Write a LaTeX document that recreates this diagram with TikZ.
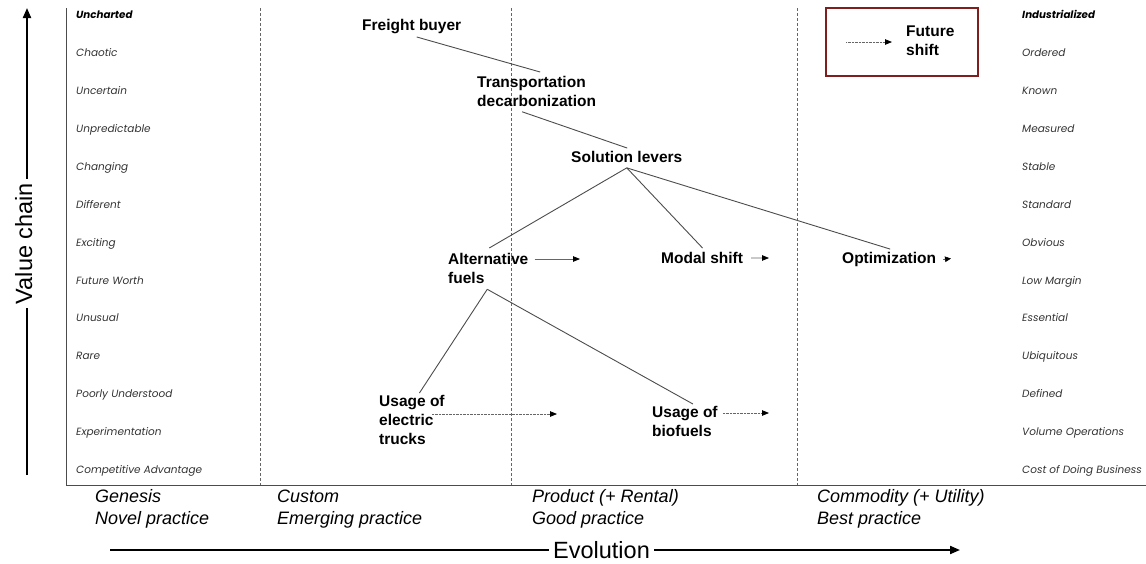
\documentclass[tikz,border=0pt]{standalone}
\usepackage{fontspec}
\setmainfont{Liberation Sans}
\newfontfamily\popfont{Poppins}
\usetikzlibrary{arrows.meta}
\definecolor{boxred}{RGB}{128,30,30}
\begin{document}
\begin{tikzpicture}[x=1pt,y=-1pt,
  rowlbl/.style={font=\popfont\itshape\fontsize{10.5}{12}\selectfont, text=black!80, anchor=base west, inner sep=0},
  rowhead/.style={font=\popfont\bfseries\itshape\fontsize{10.3}{12}\selectfont, text=black, anchor=base west, inner sep=0},
  lbl/.style={font=\bfseries\fontsize{15.5}{19}\selectfont, inner sep=0, align=left},
  stage/.style={font=\itshape\fontsize{18}{22}\selectfont, anchor=base west, inner sep=0},
  axislbl/.style={font=\fontsize{23.5}{28}\selectfont, anchor=base, fill=white, inner xsep=4pt, inner ysep=0pt},
  axisarrow/.style={line width=2pt, -{Triangle[length=10pt,width=8pt]}},
  frameline/.style={draw=black!70, line width=1pt},
  divider/.style={draw=black!60, line width=0.8pt, dash pattern=on 3pt off 2pt},
  link/.style={draw=black!70, line width=0.9pt},
  solidarrow/.style={draw=black!60, line width=0.8pt, -{Triangle[length=7pt,width=5.5pt,color=black]}},
  dotarrow/.style={draw=black!60, line width=0.8pt, dash pattern=on 0.8pt off 0.6pt, -{Triangle[length=7pt,width=5.5pt,color=black]}},
  tiparrow/.style={draw=black, line width=0.5pt, -{Triangle[length=6pt,width=5.5pt,color=black]}}
]
\useasboundingbox (0,0) rectangle (1146,563);

% frame and dividers
\draw[frameline] (66,8) -- (66,485) -- (1146,485);
\foreach \x in {260,511,797} \draw[divider] (\x,8) -- (\x,485);

% row labels
\node[rowhead] (L1) at (76,18.6) {Uncharted};
\node[rowhead] (R1) at (1022,18.6) {Industrialized};
\foreach \t [count=\i from 2] in {Chaotic,Uncertain,Unpredictable,Changing,Different,Exciting,Future Worth,Unusual,Rare,Poorly Understood,Experimentation,Competitive Advantage}
  \node[rowlbl] (L\i) at (76,{15+(\i-1)*37.92+3.6}) {\t};
\foreach \t [count=\i from 2] in {Ordered,Known,Measured,Stable,Standard,Obvious,Low Margin,Essential,Ubiquitous,Defined,Volume Operations,Cost of Doing Business}
  \node[rowlbl] (R\i) at (1022,{15+(\i-1)*37.92+3.6}) {\t};

% axes
\coordinate (vcstart) at (27,475);
\coordinate (vcend) at (27,8);
\draw[axisarrow] (vcstart) -- (vcend);
\node[axislbl, rotate=90] (vc) at (32,243.5) {Value chain};
\coordinate (evstart) at (110,550);
\coordinate (evend) at (960,550);
\draw[axisarrow] (evstart) -- (evend);
\node[axislbl] (ev) at (601.5,558.5) {Evolution};

% stage labels
\node[stage] (s1a) at (95,502.5) {Genesis};
\node[stage] (s1b) at (95,524.5) {Novel practice};
\node[stage] (s2a) at (277,502.5) {Custom};
\node[stage] (s2b) at (277,524.5) {Emerging practice};
\node[stage] (s3a) at (532,502.5) {Product (+ Rental)};
\node[stage] (s3b) at (532,524.5) {Good practice};
\node[stage] (s4a) at (817,502.5) {Commodity (+ Utility)};
\node[stage] (s4b) at (817,524.5) {Best practice};

% components
\node[lbl, anchor=base west] (fb) at (362,30.5) {Freight buyer};
\node[lbl, anchor=north west] (td) at (477,76) {Transportation\\decarbonization};
\node[lbl, anchor=base west] (sl) at (571,162.5) {Solution levers};
\node[lbl, anchor=north west] (af) at (448,253) {Alternative\\fuels};
\node[lbl, anchor=base west] (ms) at (661,263.5) {Modal shift};
\node[lbl, anchor=base west] (op) at (842,263.5) {Optimization};
\node[lbl, anchor=north west] (et) at (379,395) {Usage of\\electric\\trucks};
\node[lbl, anchor=north west] (bf) at (652,406) {Usage of\\biofuels};

% links
\draw[link] ([xshift=5pt,yshift=-3pt]fb.south) -- ([xshift=3.5pt,yshift=4pt]td.north);
\draw[link] ([xshift=-14.5pt,yshift=-5pt]td.south) -- ([xshift=0.5pt,yshift=3pt]sl.north);
\draw[link] ([yshift=-5pt]sl.south) -- ([xshift=1pt,yshift=5pt]af.north);
\draw[link] ([yshift=-5pt]sl.south) -- ([xshift=0.5pt,yshift=4pt]ms.north);
\draw[link] ([yshift=-5pt]sl.south) -- ([xshift=1pt,yshift=3pt]op.north);
\draw[link] ([xshift=-1pt,yshift=-5.5pt]af.south) -- ([xshift=7.5pt,yshift=2pt]et.north);
\draw[link] ([xshift=-1pt,yshift=-5.5pt]af.south) -- ([xshift=8pt,yshift=2pt]bf.north);

% evolution arrows
\coordinate (afend) at (580,259);
\draw[solidarrow] ([xshift=6pt,yshift=-6pt]af.north east) -- (afend);
\coordinate (msend) at (769,258);
\draw[solidarrow] ([xshift=8pt]ms.east) -- (msend);
\coordinate (opend) at (951,258.5);
\draw[tiparrow] ([xshift=7pt]op.east) -- (opend);
\coordinate (etend) at (557,414);
\draw[dotarrow] ([xshift=-13pt,yshift=-19pt]et.north east) -- (etend);
\coordinate (bfend) at (769,413);
\draw[dotarrow] ([xshift=5pt,yshift=-7pt]bf.north east) -- (bfend);

% legend
\node[draw=boxred, line width=1.5pt, minimum width=152pt, minimum height=68pt, inner sep=0] (legend) at (902,42) {};
\node[lbl, anchor=north west] (fs) at (906,26) {Future\\shift};
\coordinate (lgend) at (892,42);
\draw[dotarrow] ([xshift=21pt]legend.west) -- (lgend);
\end{tikzpicture}
\end{document}
